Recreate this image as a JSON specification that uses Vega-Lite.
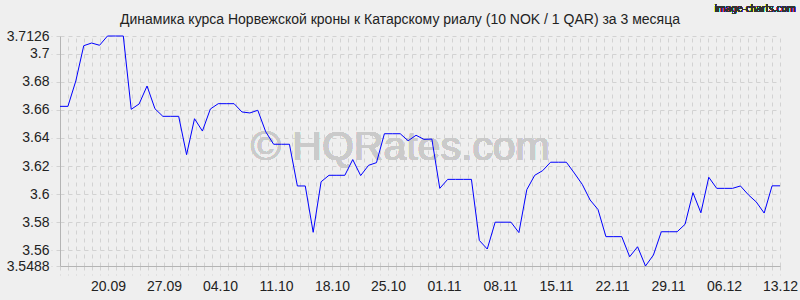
{
  "$schema": "https://vega.github.io/schema/vega-lite/v6.json",
  "width": 720,
  "height": 230,
  "autosize": {"type": "none"},
  "padding": {"left": 60, "top": 36, "right": 20, "bottom": 34},
  "background": "#efefef",
  "config": {"view": {"stroke": null}, "font": "Liberation Sans", "axis": {"labelOverlap": false}},
  "title": {
    "text": "Динамика курса Норвежской кроны к Катарскому риалу (10 NOK / 1 QAR) за 3 месяца",
    "fontSize": 14,
    "fontWeight": "normal",
    "font": "Liberation Sans",
    "color": "#222222",
    "anchor": "middle",
    "baseline": "alphabetic",
    "dx": -20,
    "dy": 44,
    "offset": 10
  },
  "data": {
    "values": [
      {"date": "2025-09-13", "rate": 3.6625},
      {"date": "2025-09-14", "rate": 3.6625},
      {"date": "2025-09-15", "rate": 3.6806},
      {"date": "2025-09-16", "rate": 3.7057},
      {"date": "2025-09-17", "rate": 3.7076},
      {"date": "2025-09-18", "rate": 3.706},
      {"date": "2025-09-19", "rate": 3.7126},
      {"date": "2025-09-20", "rate": 3.7126},
      {"date": "2025-09-21", "rate": 3.7126},
      {"date": "2025-09-22", "rate": 3.6604},
      {"date": "2025-09-23", "rate": 3.6642},
      {"date": "2025-09-24", "rate": 3.677},
      {"date": "2025-09-25", "rate": 3.6608},
      {"date": "2025-09-26", "rate": 3.6554},
      {"date": "2025-09-27", "rate": 3.6554},
      {"date": "2025-09-28", "rate": 3.6554},
      {"date": "2025-09-29", "rate": 3.6281},
      {"date": "2025-09-30", "rate": 3.6537},
      {"date": "2025-10-01", "rate": 3.6449},
      {"date": "2025-10-02", "rate": 3.6606},
      {"date": "2025-10-03", "rate": 3.6644},
      {"date": "2025-10-04", "rate": 3.6644},
      {"date": "2025-10-05", "rate": 3.6644},
      {"date": "2025-10-06", "rate": 3.6585},
      {"date": "2025-10-07", "rate": 3.6578},
      {"date": "2025-10-08", "rate": 3.6597},
      {"date": "2025-10-09", "rate": 3.6444},
      {"date": "2025-10-10", "rate": 3.6355},
      {"date": "2025-10-11", "rate": 3.6355},
      {"date": "2025-10-12", "rate": 3.6355},
      {"date": "2025-10-13", "rate": 3.6058},
      {"date": "2025-10-14", "rate": 3.6058},
      {"date": "2025-10-15", "rate": 3.5728},
      {"date": "2025-10-16", "rate": 3.6088},
      {"date": "2025-10-17", "rate": 3.6134},
      {"date": "2025-10-18", "rate": 3.6134},
      {"date": "2025-10-19", "rate": 3.6134},
      {"date": "2025-10-20", "rate": 3.6246},
      {"date": "2025-10-21", "rate": 3.6132},
      {"date": "2025-10-22", "rate": 3.6205},
      {"date": "2025-10-23", "rate": 3.6224},
      {"date": "2025-10-24", "rate": 3.643},
      {"date": "2025-10-25", "rate": 3.643},
      {"date": "2025-10-26", "rate": 3.643},
      {"date": "2025-10-27", "rate": 3.638},
      {"date": "2025-10-28", "rate": 3.6419},
      {"date": "2025-10-29", "rate": 3.639},
      {"date": "2025-10-30", "rate": 3.6392},
      {"date": "2025-10-31", "rate": 3.6041},
      {"date": "2025-11-01", "rate": 3.6105},
      {"date": "2025-11-02", "rate": 3.6105},
      {"date": "2025-11-03", "rate": 3.6105},
      {"date": "2025-11-04", "rate": 3.6105},
      {"date": "2025-11-05", "rate": 3.567},
      {"date": "2025-11-06", "rate": 3.5609},
      {"date": "2025-11-07", "rate": 3.58},
      {"date": "2025-11-08", "rate": 3.58},
      {"date": "2025-11-09", "rate": 3.58},
      {"date": "2025-11-10", "rate": 3.5726},
      {"date": "2025-11-11", "rate": 3.6032},
      {"date": "2025-11-12", "rate": 3.6134},
      {"date": "2025-11-13", "rate": 3.6167},
      {"date": "2025-11-14", "rate": 3.6227},
      {"date": "2025-11-15", "rate": 3.6227},
      {"date": "2025-11-16", "rate": 3.6227},
      {"date": "2025-11-17", "rate": 3.615},
      {"date": "2025-11-18", "rate": 3.607},
      {"date": "2025-11-19", "rate": 3.5958},
      {"date": "2025-11-20", "rate": 3.589},
      {"date": "2025-11-21", "rate": 3.5697},
      {"date": "2025-11-22", "rate": 3.5697},
      {"date": "2025-11-23", "rate": 3.5697},
      {"date": "2025-11-24", "rate": 3.5554},
      {"date": "2025-11-25", "rate": 3.5625},
      {"date": "2025-11-26", "rate": 3.5488},
      {"date": "2025-11-27", "rate": 3.5566},
      {"date": "2025-11-28", "rate": 3.5732},
      {"date": "2025-11-29", "rate": 3.5732},
      {"date": "2025-11-30", "rate": 3.5732},
      {"date": "2025-12-01", "rate": 3.5785},
      {"date": "2025-12-02", "rate": 3.601},
      {"date": "2025-12-03", "rate": 3.5867},
      {"date": "2025-12-04", "rate": 3.612},
      {"date": "2025-12-05", "rate": 3.6041},
      {"date": "2025-12-06", "rate": 3.6041},
      {"date": "2025-12-07", "rate": 3.6041},
      {"date": "2025-12-08", "rate": 3.6058},
      {"date": "2025-12-09", "rate": 3.5995},
      {"date": "2025-12-10", "rate": 3.5944},
      {"date": "2025-12-11", "rate": 3.5865},
      {"date": "2025-12-12", "rate": 3.6059},
      {"date": "2025-12-13", "rate": 3.6059}
    ]
  },
  "resolve": {"scale": {"x": "independent"}, "axis": {"x": "independent"}},
  "layer": [
    {
      "mark": {"type": "rule", "opacity": 0},
      "encoding": {
        "x": {
          "field": "date",
          "type": "temporal",
          "scale": {
            "type": "utc",
            "domain": [
              {"year": 2025, "month": 9, "date": 14, "utc": true},
              {"year": 2025, "month": 12, "date": 13, "utc": true}
            ]
          },
          "axis": {
            "orient": "bottom",
            "title": null,
            "tickCount": {"interval": "day", "step": 1},
            "labelExpr": "utcday(datum.value) == 6 ? utcFormat(datum.value, '%d.%m') : ''",
            "labelOverlap": false,
            "labelFlush": false,
            "labelFontSize": 14,
            "labelColor": "#222222",
            "labelFont": "Liberation Sans",
            "labelPadding": 4,
            "grid": true,
            "gridColor": "#d2d2d2",
            "gridDash": [4, 4],
            "tickSize": 9,
            "tickColor": "#d2d2d2",
            "tickDash": [4, 4],
            "domainColor": "#b4b4b4"
          }
        }
      }
    },
    {
      "mark": {
        "type": "text",
        "text": "© HQRates.com",
        "font": "Liberation Sans",
        "fontSize": 41,
        "color": "#cacaca",
        "align": "center",
        "baseline": "alphabetic"
      },
      "encoding": {
        "x": {
          "datum": {"year": 2025, "month": 10, "date": 26, "utc": true},
          "type": "temporal",
          "scale": {
            "type": "utc",
            "domain": [
              {"year": 2025, "month": 9, "date": 13, "utc": true},
              {"year": 2025, "month": 12, "date": 13, "utc": true}
            ]
          },
          "axis": null
        },
        "y": {"datum": 3.6243, "type": "quantitative"}
      }
    },
    {
      "mark": {
        "type": "text",
        "text": "image-charts.com",
        "font": "DejaVu Sans Condensed",
        "fontSize": 10,
        "color": "#333333",
        "align": "right",
        "baseline": "middle",
        "clip": false
      },
      "encoding": {
        "x": {
          "datum": {"year": 2025, "month": 12, "date": 15, "utc": true},
          "type": "temporal",
          "scale": {
            "type": "utc",
            "domain": [
              {"year": 2025, "month": 9, "date": 13, "utc": true},
              {"year": 2025, "month": 12, "date": 13, "utc": true}
            ]
          },
          "axis": null
        },
        "y": {"datum": 3.7318, "type": "quantitative"}
      }
    },
    {
      "mark": {"type": "line", "color": "#0000ff", "strokeWidth": 1},
      "encoding": {
        "x": {
          "field": "date",
          "type": "temporal",
          "scale": {
            "type": "utc",
            "domain": [
              {"year": 2025, "month": 9, "date": 13, "utc": true},
              {"year": 2025, "month": 12, "date": 13, "utc": true}
            ]
          },
          "axis": null
        },
        "y": {
          "field": "rate",
          "type": "quantitative",
          "scale": {"domain": [3.5488, 3.7126], "zero": false, "nice": false},
          "axis": {
            "title": null,
            "values": [3.5488, 3.56, 3.58, 3.6, 3.62, 3.64, 3.66, 3.68, 3.7, 3.7126],
            "tickCount": 20,
            "labelExpr": "'' + datum.value",
            "labelOverlap": false,
            "labelFontSize": 14,
            "labelColor": "#222222",
            "labelFont": "Liberation Sans",
            "labelPadding": 2,
            "grid": true,
            "gridColor": "#d2d2d2",
            "gridDash": [4, 4],
            "tickSize": 9,
            "tickColor": "#d2d2d2",
            "tickDash": [4, 4],
            "domainColor": "#b4b4b4"
          }
        }
      }
    }
  ]
}
